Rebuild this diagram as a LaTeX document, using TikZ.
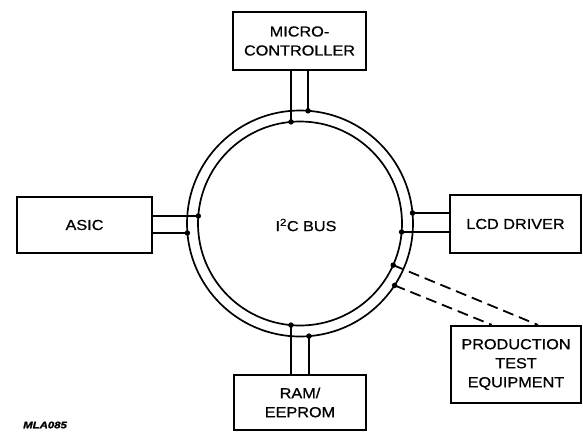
\documentclass[tikz,border=0pt]{standalone}
\usepackage{fontspec}
\setmainfont{Liberation Sans}[FakeStretch=1.12,FakeBold=0.8]
\newfontfamily\labelfont{Liberation Sans}[FakeStretch=1.2,FakeBold=1.5]
\usetikzlibrary{calc}
\begin{document}
\begin{tikzpicture}[x=1pt,y=-1pt,
  unitbox/.style={draw,line width=2.2pt,inner sep=0pt,align=center,
    font=\fontsize{14.5}{19}\selectfont},
  busline/.style={line width=1.7pt},
  stub/.style={line width=1.6pt},
  jdot/.style={circle,fill,inner sep=0pt,minimum size=5.5pt},
  testline/.style={line width=1.8pt,dash pattern=on 11pt off 6pt}]
\useasboundingbox (0,0) rectangle (583,432);
\coordinate (C) at (300,223.5);
% bus ring
\draw[busline] (C) circle[radius=113pt];
\draw[busline] (C) circle[radius=102pt];
\node (bus) at (306,225) {\fontsize{14.5}{17}\selectfont I\textsuperscript{2}C BUS};
% boxes
\node[unitbox,minimum width=133pt,minimum height=58pt] (mc) at (299.5,41) {MICRO-\\CONTROLLER};
\node[unitbox,minimum width=135pt,minimum height=56pt] (asic) at (84.5,225) {ASIC};
\node[unitbox,minimum width=131pt,minimum height=58pt] (lcd) at (515.5,224) {LCD DRIVER};
\node[unitbox,minimum width=130pt,minimum height=77pt] (pte) at (516,364.5) {PRODUCTION\\TEST\\EQUIPMENT};
\node[unitbox,minimum width=132pt,minimum height=55pt] (ram) at (300,402.5) {RAM/\\EEPROM};
% junction points
\coordinate (mcA) at (291,121.9);
\coordinate (mcB) at (308,110.8);
\coordinate (asA) at (198.3,216);
\coordinate (asB) at (187.4,233);
\coordinate (lcA) at (412.5,213);
\coordinate (lcB) at (401.6,232);
\coordinate (rmA) at (291,325.1);
\coordinate (rmB) at (309,336.1);
\coordinate (ptA) at (393.2,265.1);
\coordinate (ptB) at (394.6,285.4);
\coordinate (ptAe) at ($(pte.north west)+(88,0)$);
\coordinate (ptBe) at ($(pte.north west)+(42,0)$);
% stubs
\draw[stub] (mc.south -| mcA) -- (mcA);
\draw[stub] (mc.south -| mcB) -- (mcB);
\draw[stub] (asic.east |- asA) -- (asA);
\draw[stub] (asic.east |- asB) -- (asB);
\draw[stub] (lcd.west |- lcA) -- (lcA);
\draw[stub] (lcd.west |- lcB) -- (lcB);
\draw[stub] (ram.north -| rmA) -- (rmA);
\draw[stub] (ram.north -| rmB) -- (rmB);
\draw[testline] (ptA) -- (ptAe);
\draw[testline] (ptB) -- (ptBe);
% dots
\foreach \p in {mcA,mcB,asA,asB,lcA,lcB,rmA,rmB,ptA,ptB}
  \node[jdot] at (\p) {};
\node[anchor=west,inner sep=0pt] (tag) at (23,425)
  {\labelfont\fontsize{9.5}{11}\selectfont\bfseries\itshape MLA085};
\end{tikzpicture}
\end{document}
